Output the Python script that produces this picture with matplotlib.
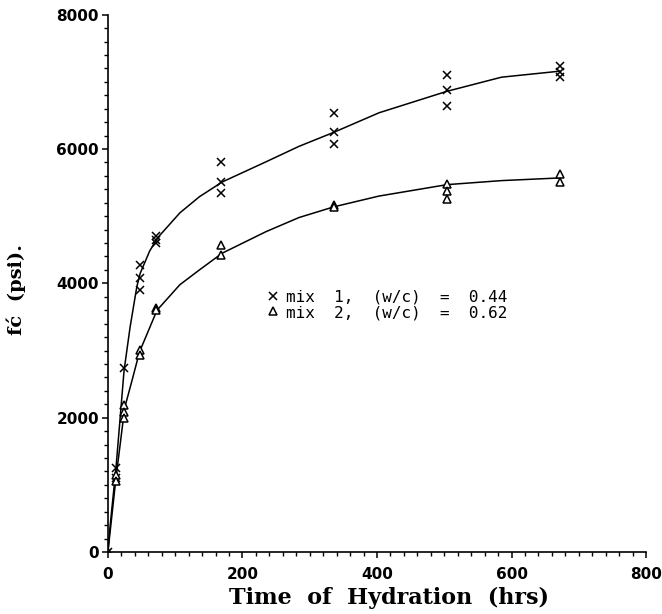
import matplotlib
matplotlib.use('Agg')
import matplotlib.pyplot as plt
from matplotlib.ticker import MultipleLocator

# measured points (hours, psi)
mix1_t = [0, 12, 12, 24, 48, 48, 48, 72, 72, 72, 168, 168, 168,
          336, 336, 336, 504, 504, 504, 672, 672, 672]
mix1_psi = [0, 1250, 1100, 2740, 4280, 4080, 3900, 4600, 4650, 4700,
            5800, 5510, 5350, 6540, 6250, 6070, 7110, 6880, 6640,
            7230, 7150, 7080]

mix2_t = [0, 12, 12, 24, 24, 24, 48, 48, 72, 72, 168, 168,
          336, 336, 504, 504, 504, 672, 672]
mix2_psi = [0, 1150, 1050, 2190, 2080, 1990, 3010, 2940, 3630, 3600,
            4570, 4420, 5170, 5130, 5480, 5380, 5250, 5630, 5510]

# fitted curves
curve1_t = [0, 3, 12, 24, 33, 43, 48, 62, 74, 107, 136, 170, 235, 284,
            336, 403, 504, 585, 672]
curve1_psi = [0, 360, 1250, 2700, 3350, 3950, 4150, 4480, 4680, 5050,
              5290, 5510, 5810, 6040, 6250, 6540, 6860, 7070, 7160]

curve2_t = [0, 12, 25, 36, 47, 73, 107, 136, 170, 235, 284, 336, 403,
            504, 585, 672]
curve2_psi = [0, 1100, 2150, 2560, 2980, 3600, 3980, 4200, 4450, 4770,
              4980, 5140, 5300, 5470, 5530, 5570]

labels = ['mix  1,  (w/c)  =  0.44', 'mix  2,  (w/c)  =  0.62']

fig = plt.figure(figsize=(6.62, 6.14), dpi=100)
ax = fig.add_axes([0.163, 0.101, 0.813, 0.875])

ax.plot(curve1_t, curve1_psi, color='black', lw=1.1)
ax.plot(curve2_t, curve2_psi, color='black', lw=1.1)
ax.plot(mix1_t, mix1_psi, ls='none', marker='x', ms=6, mew=1.1,
        color='black', label=labels[0])
ax.plot(mix2_t, mix2_psi, ls='none', marker='^', ms=6, mew=1.1,
        mfc='white', mec='black', label=labels[1])

ax.set_xlim(0, 800)
ax.set_ylim(0, 8000)
ax.xaxis.set_major_locator(MultipleLocator(200))
ax.xaxis.set_minor_locator(MultipleLocator(20))
ax.yaxis.set_major_locator(MultipleLocator(2000))
ax.yaxis.set_minor_locator(MultipleLocator(200))

for s in ['top', 'right']:
    ax.spines[s].set_visible(False)
for s in ['left', 'bottom']:
    ax.spines[s].set_linewidth(1.2)

ax.tick_params(which='major', direction='out', length=4.5, width=1.1,
               labelsize=11)
ax.tick_params(which='minor', direction='out', length=3, width=1.0)
ax.tick_params(axis='x', which='major', pad=6)
ax.tick_params(axis='y', which='major', pad=2)
for lab in ax.get_xticklabels() + ax.get_yticklabels():
    lab.set_fontweight('bold')

ax.set_xlabel('Time  of  Hydration  (hrs)', family='DejaVu Serif',
              fontweight='bold', fontsize=16)
ax.xaxis.set_label_coords(0.522, -0.065)
ax.set_ylabel('fć  (psi).', family='DejaVu Serif', fontweight='bold',
              fontsize=14)
ax.yaxis.set_label_coords(-0.152, 0.488)

ax.legend(loc='upper left', bbox_to_anchor=(0.295, 0.489), frameon=False,
          handlelength=0.8, handletextpad=0.4, labelspacing=0.05,
          borderpad=0, borderaxespad=0,
          prop={'family': 'DejaVu Sans Mono', 'size': 11.5})

fig.savefig('out.png', dpi=100)
